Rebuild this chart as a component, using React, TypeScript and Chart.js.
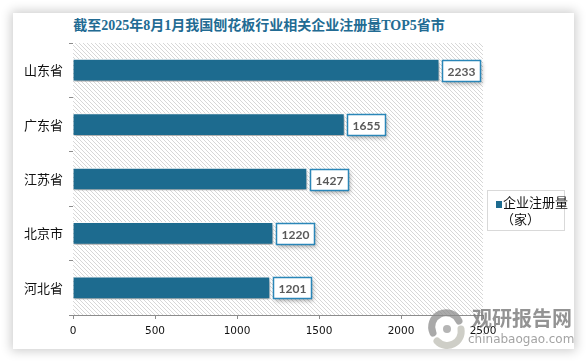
import React, { useEffect, useRef } from "react";
import { Chart, registerables } from "chart.js";

Chart.register(...registerables);

const categories = ["山东省", "广东省", "江苏省", "北京市", "河北省"];
const values = [2233, 1655, 1427, 1220, 1201];
const xTicks = [0, 500, 1000, 1500, 2000, 2500];
const titleText = "截至2025年8月1月我国刨花板行业相关企业注册量TOP5省市";
const seriesName = "企业注册量";
const seriesUnit = "（家）";

const BAR = "#1d6b8f";

function makePattern(ctx: CanvasRenderingContext2D) {
  const c = document.createElement("canvas");
  c.width = 4;
  c.height = 4;
  const p = c.getContext("2d")!;
  p.fillStyle = "#ffffff";
  p.fillRect(0, 0, 4, 4);
  p.fillStyle = "#d7d7d7";
  for (let i = 0; i < 4; i++) p.fillRect(i, i, 1, 1);
  return ctx.createPattern(c, "repeat");
}

const hatchPlugin = {
  id: "hatch",
  beforeDatasetsDraw(chart: any) {
    const { ctx, chartArea } = chart;
    ctx.save();
    ctx.fillStyle = makePattern(ctx) || "#eee";
    ctx.fillRect(chartArea.left, chartArea.top, chartArea.right - chartArea.left, chartArea.bottom - chartArea.top);
    ctx.restore();
    ctx.save();
    ctx.shadowColor = "rgba(0,0,0,0.35)";
    ctx.shadowOffsetX = 1;
    ctx.shadowOffsetY = 3;
    ctx.shadowBlur = 4;
  },
  afterDatasetsDraw(chart: any) {
    const { ctx } = chart;
    ctx.restore();
    const meta = chart.getDatasetMeta(0);
    const ds = chart.data.datasets[0];
    ctx.save();
    ctx.font = "bold 12px Lato, 'Open Sans', sans-serif";
    meta.data.forEach((bar: any, i: number) => {
      const txt = String(ds.data[i]);
      const tw = ctx.measureText(txt).width;
      const w = Math.round(tw + 10);
      const h = 21;
      const x0 = Math.round(bar.x + 3) + 0.5;
      const y0 = Math.round(bar.y - h / 2) + 0.5;
      ctx.save();
      ctx.shadowColor = "rgba(0,0,0,0.3)";
      ctx.shadowOffsetX = 1;
      ctx.shadowOffsetY = 2;
      ctx.shadowBlur = 4;
      ctx.fillStyle = "#ffffff";
      ctx.fillRect(x0, y0, w, h);
      ctx.restore();
      ctx.strokeStyle = "#2a86b8";
      ctx.lineWidth = 1.5;
      ctx.strokeRect(x0, y0, w, h);
      ctx.fillStyle = "#595959";
      ctx.textAlign = "center";
      ctx.textBaseline = "middle";
      ctx.fillText(txt, x0 + w / 2, y0 + h / 2 + 1);
    });
    ctx.restore();
  },
};

export default function App() {
  const ref = useRef<HTMLCanvasElement | null>(null);
  useEffect(() => {
    document.body.style.margin = "0";
    const chart = new Chart(ref.current!, {
      type: "bar",
      data: {
        labels: categories,
        datasets: [
          {
            label: seriesName,
            data: values,
            backgroundColor: BAR,
            borderColor: "#ffffff",
            borderWidth: 1,
            borderSkipped: "start",
            barThickness: 22,
          },
        ],
      },
      options: {
        indexAxis: "y",
        responsive: false,
        animation: false,
        devicePixelRatio: 1,
        layout: { padding: { top: 30, right: 91, bottom: 0, left: 0 } },
        plugins: { legend: { display: false }, title: { display: false }, tooltip: { enabled: false } },
        scales: {
          y: {
            type: "category",
            afterFit: (s: any) => {
              s.width = 60;
            },
            grid: { drawOnChartArea: false, tickLength: 4, color: "#8c8c8c", offset: true },
            border: { color: "#8c8c8c", width: 1 },
            ticks: { color: "#111", padding: 6, font: { size: 13, family: "'Noto Sans CJK SC', sans-serif" } },
          },
          x: {
            min: 0,
            max: 2500,
            afterFit: (s: any) => {
              s.height = 34;
            },
            afterBuildTicks: (s: any) => {
              s.ticks = xTicks.map((v) => ({ value: v }));
            },
            grid: { drawOnChartArea: false, tickLength: 4, color: "#8c8c8c" },
            border: { color: "#8c8c8c", width: 1 },
            ticks: {
              color: "#111",
              padding: 6,
              font: { size: 10.5, family: "'DejaVu Sans', sans-serif" },
              callback: (v: any) => String(v),
            },
          },
        },
      },
      plugins: [hatchPlugin],
    } as any);
    return () => chart.destroy();
  }, []);

  return (
    <div style={{ position: "absolute", left: 0, top: 0, width: 587, height: 361, background: "#fff", overflow: "hidden" }}>
      <div
        style={{
          position: "absolute",
          left: 13,
          top: 13,
          width: 561,
          height: 336,
          background: "#fff",
          boxShadow: "0 0 10px 2px rgba(0,0,0,0.2)",
        }}
      />
      <div
        style={{
          position: "absolute",
          left: 59,
          top: 16,
          width: 400,
          textAlign: "center",
          fontFamily: "'Liberation Serif', 'Noto Sans CJK SC', serif",
          fontWeight: "bold",
          fontSize: 14,
          color: "#226b93",
          whiteSpace: "nowrap",
          lineHeight: "20px",
        }}
      >
        {titleText}
      </div>
      <canvas ref={ref} width={561} height={336} style={{ position: "absolute", left: 13, top: 13 }} />
      <div
        style={{
          position: "absolute",
          left: 487,
          top: 190,
          width: 78,
          height: 41,
          border: "1px solid #d9d9d9",
          boxSizing: "border-box",
          fontFamily: "'Noto Sans CJK SC', sans-serif",
          fontSize: 13,
          color: "#111",
          lineHeight: "16px",
        }}
      >
        <div style={{ position: "absolute", left: 8, top: 10, width: 6, height: 7, background: BAR }} />
        <div style={{ position: "absolute", left: 15, top: 3, whiteSpace: "nowrap" }}>{seriesName}</div>
        <div style={{ position: "absolute", left: 13, top: 20, whiteSpace: "nowrap" }}>{seriesUnit}</div>
      </div>
      <div style={{ position: "absolute", left: 425, top: 305, width: 150, height: 45, pointerEvents: "none" }}>
        <svg width="44" height="44" viewBox="0 0 44 44" style={{ position: "absolute", left: 0, top: 2 }}>
          <path d="M8 26 A14 14 0 0 1 34 14" stroke="rgba(140,140,140,0.75)" strokeWidth="7" fill="none" strokeLinecap="round" />
          <path d="M36 22 A14 14 0 0 1 12 34" stroke="rgba(190,190,180,0.75)" strokeWidth="7" fill="none" strokeLinecap="round" />
          <circle cx="22" cy="22" r="4" fill="rgba(150,150,150,0.7)" />
        </svg>
        <div
          style={{
            position: "absolute",
            left: 47,
            top: 0,
            fontFamily: "'Noto Sans CJK SC', sans-serif",
            fontWeight: "bold",
            fontSize: 20,
            lineHeight: "26px",
            color: "rgba(120,120,120,0.8)",
            whiteSpace: "nowrap",
          }}
        >
          观研报告网
        </div>
        <div
          style={{
            position: "absolute",
            left: 43,
            top: 27,
            fontFamily: "'DejaVu Sans', sans-serif",
            fontSize: 12,
            lineHeight: "14px",
            color: "rgba(140,140,140,0.8)",
            whiteSpace: "nowrap",
          }}
        >
          chinabaogao.com
        </div>
      </div>
    </div>
  );
}
